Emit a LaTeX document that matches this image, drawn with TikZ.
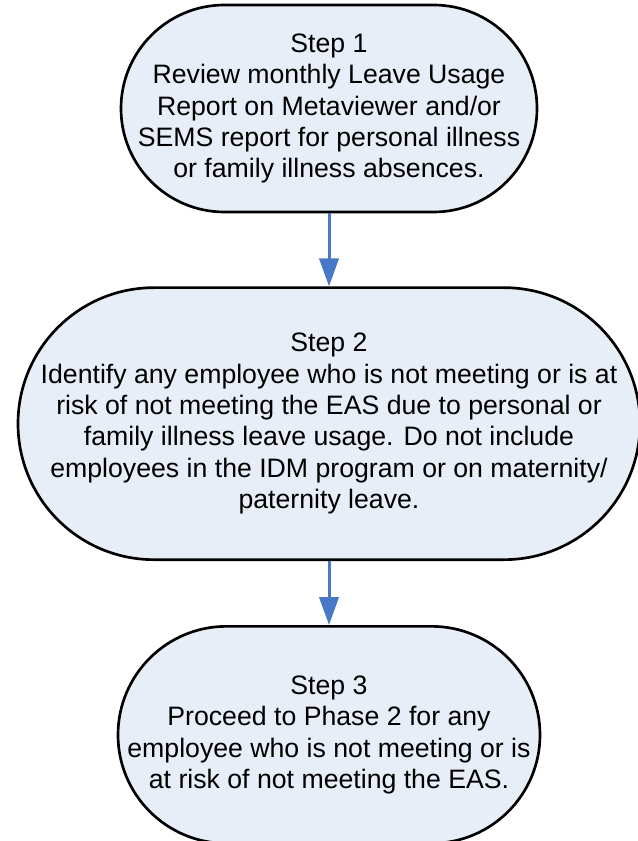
\documentclass[tikz,border=0pt]{standalone}
\usepackage{fontspec}
\setmainfont{Liberation Sans}
\usepackage{xcolor}
\usetikzlibrary{arrows.meta, calc, positioning}
\definecolor{stepfill}{HTML}{E8EEF7}
\definecolor{stepblue}{HTML}{4878C8}
\tikzset{
  % Graph arrow style
  garr/.style={
    line width = 2.25pt, draw=stepblue,
    -{Triangle[width=14.5pt,length=21pt]}
  },
  % step box style
  stepbox/.style={
    draw, % General options for all nodes
    line width=2pt,
    fill=stepfill,
    align=center,
    anchor=center,
    inner sep=0pt,
    font=\fontsize{20}{23.6}\selectfont
  },
}

\begin{document}
\begin{tikzpicture}
      \useasboundingbox (0,0) rectangle (477.75pt,-630.75pt);
      \node[stepbox, minimum width=312pt, minimum height=155.25pt,
            rounded corners=77.6pt] (s1) at (246.75pt,-81.375pt)
        {Step 1\\ Review monthly Leave Usage\\ Report on Metaviewer and/or\\
         SEMS report for personal illness\\ or family illness absences.}; % s1
      \node[stepbox, minimum width=466.5pt, minimum height=204pt,
            rounded corners=102pt, below=54.75pt of s1] (s2)
        {Step 2\\ Identify any employee who is not meeting or is at\\
         risk of not meeting the EAS due to personal or\\
         family illness leave usage. Do not include\\
         employees in the IDM program or on maternity/\\ paternity leave.}; % s2
      \node[stepbox, minimum width=316.5pt, minimum height=162.75pt,
            rounded corners=81.4pt, below=48pt of s2] (s3)
        {Step 3\\ Proceed to Phase 2 for any\\
         employee who is not meeting or is\\ at risk of not meeting the EAS.}; % s3

      \draw[garr] (s1.south) -- (s2.north);
      \draw[garr] (s2.south) -- (s3.north);
\end{tikzpicture}
\end{document}
